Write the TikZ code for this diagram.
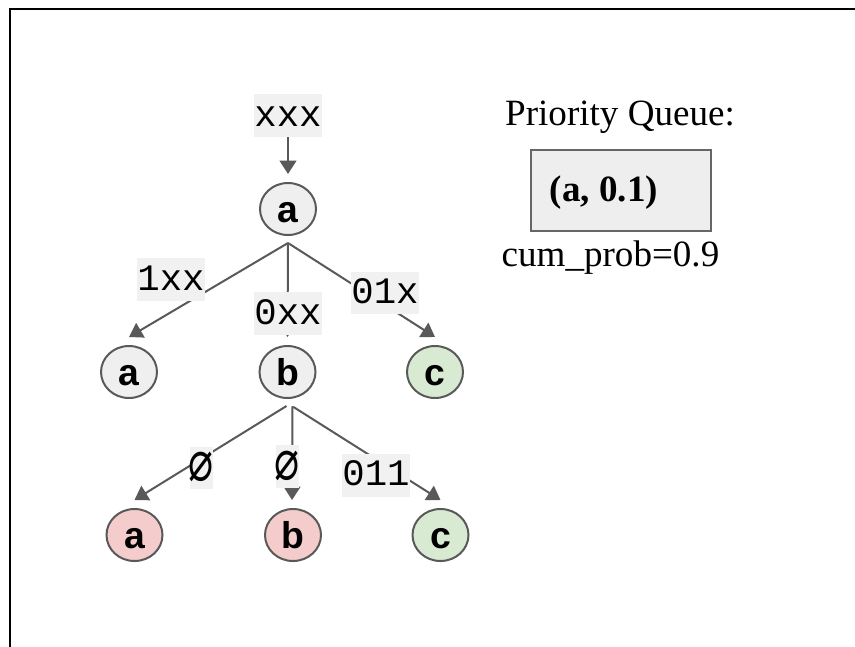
\documentclass[tikz,border=0pt]{standalone}
\usepackage{fontspec}
\usepackage{graphicx}
\setmainfont{Liberation Serif}
\newfontfamily\nodefont{Liberation Sans}
\newfontfamily\codefont{Liberation Mono}
\newfontfamily\symfont{DejaVu Sans Mono}
\usetikzlibrary{arrows.meta,shapes.geometric,calc}

\definecolor{edgegrey}{HTML}{595959}
\definecolor{plainfill}{HTML}{EFEFEF}
\definecolor{badfill}{HTML}{F4CCCC}
\definecolor{goodfill}{HTML}{D9EAD3}
\definecolor{labelbg}{HTML}{F1F1F1}
\definecolor{queuefill}{HTML}{EEEEEE}
\definecolor{queueline}{HTML}{666666}

% narrow, slightly lowered empty-set mark for the pattern labels
\newcommand{\emptymark}{\makebox[17pt]{\raisebox{-4.5pt}{\scalebox{0.78}[1.05]{\symfont\fontsize{40}{40}\selectfont ∅}}}}

\tikzset{
  state/.style={ellipse, draw=edgegrey, line width=1.5pt, fill=plainfill,
    minimum width=42pt, minimum height=39pt, inner sep=0pt,
    text height=20pt, text depth=0pt,
    font=\nodefont\bfseries\fontsize{28}{28}\selectfont},
  bad/.style={state, fill=badfill},
  good/.style={state, fill=goodfill},
  pattern/.style={fill=labelbg, inner sep=0pt, minimum height=32pt,
    text height=15.75pt, text depth=0pt,
    font=\codefont\fontsize{28}{28}\selectfont},
  emptyset/.style={pattern, minimum width=17pt},
  edge/.style={draw=edgegrey, line width=1.5pt,
    -{Triangle[width=12.5pt,length=10pt]}},
  queuebox/.style={rectangle, draw=queueline, line width=1.5pt, fill=queuefill,
    minimum width=134.7pt, minimum height=60.5pt, inner sep=0pt},
  serif/.style={anchor=base, inner sep=0pt, font=\fontsize{27.8}{30}\selectfont},
}

\begin{document}
\begin{tikzpicture}[x=0.75pt, y=-0.75pt]
\useasboundingbox (0,0) rectangle (855,646);

% outer frame (only the top and left sides fall on the page)
\draw[line width=1.5pt] (10,700) -- (10,8.5) -- (900,8.5);

% tree nodes
\node[state] (root) at (288,209) {a};
\node[state] (ma)   at (129,372) {a};
\node[state] (mb)   at (287.5,372) {b};
\node[good]  (mc)   at (435,372) {c};
\node[bad]   (la)   at (134.5,535) {a};
\node[bad]   (lb)   at (293,535) {b};
\node[good]  (lc)   at (440.5,535) {c};

% input pattern
\node[pattern] (in) at (288,115.5) {xxx};

% connectors
\draw[edge] (in.south) -- ($(root.north)+(0,-8)$);

\draw[edge] ($(root.south)+(0,7)$) -- ($(ma.north)+(0,-8)$);
\draw[edge] ($(root.south)+(0,7)$) -- ($(mb.north)+(0,-8)$);
\draw[edge] ($(root.south)+(0,7)$) -- ($(mc.north)+(0,-8)$);

\draw[edge] ($(mb.south)+(-1,7)$) -- ($(la.north)+(0,-8)$);
\draw[edge] ($(mb.south)+(5,7)$)  -- ($(lb.north)+(-1,-8)$);
\draw[edge] ($(mb.south)+(6,8)$)  -- ($(lc.north)+(0,-8)$);

% connector labels
\node[pattern] (p1xx) at (171,279.5) {1xx};
\node[pattern] (p0xx) at (288,313.5) {0xx};
\node[pattern] (p01x) at (385,293)   {01x};
\node[emptyset] (pnl) at (201.3,468) {\emptymark};
\node[emptyset] (pnm) at (287.5,466.5) {\emptymark};
\node[pattern] (p011) at (376,475.3) {011};

% priority queue
\node[serif] (qtitle) at (620,125) {Priority Queue:};
\node[queuebox] (queue) at (620.8,190.3) {};
\node[serif, font=\bfseries\fontsize{27.8}{30}\selectfont] (qitem) at (604,201.7) {(a, 0.1)};
\node[serif] (cum) at (610.5,266.7) {cum\_prob=0.9};

\end{tikzpicture}
\end{document}
